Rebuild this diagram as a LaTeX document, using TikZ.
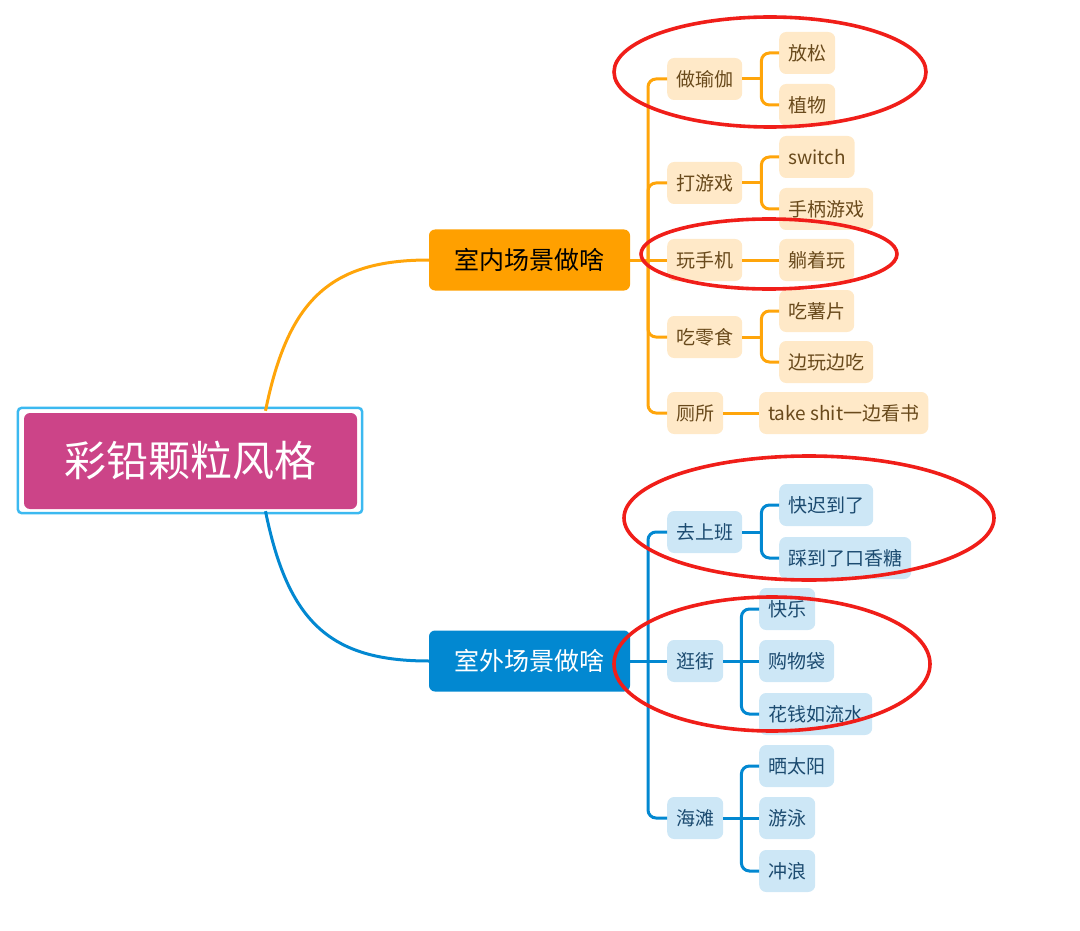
\documentclass[tikz,border=0pt]{standalone}
\usepackage{fontspec}
\setmainfont{Noto Sans CJK SC}
\usetikzlibrary{calc}
\definecolor{magroot}{RGB}{204,68,136}
\definecolor{cyanb}{RGB}{60,185,240}
\definecolor{iorange}{RGB}{255,160,0}
\definecolor{iline}{RGB}{255,165,10}
\definecolor{ifill}{RGB}{255,233,200}
\definecolor{itext}{RGB}{105,74,28}
\definecolor{oblue}{RGB}{2,136,209}
\definecolor{ofill}{RGB}{205,231,246}
\definecolor{otext}{RGB}{28,75,112}
\definecolor{redmark}{RGB}{240,30,25}
\begin{document}
\begin{tikzpicture}[x=1pt,y=-1pt,
  rootbox/.style={fill=magroot,text=white,rounded corners=6pt,minimum width=333pt,minimum height=96pt,font=\fontsize{42}{46}\selectfont},
  mainbox/.style={rounded corners=6pt,minimum width=201pt,minimum height=61pt,font=\fontsize{25}{28}\selectfont},
  ibox/.style={fill=ifill,text=itext,rounded corners=7pt,inner xsep=9pt,minimum height=42pt,anchor=west,font=\fontsize{19}{21}\selectfont},
  obox/.style={fill=ofill,text=otext,rounded corners=7pt,inner xsep=9pt,minimum height=42pt,anchor=west,font=\fontsize{19}{21}\selectfont},
  iln/.style={draw=iline,line width=3pt},
  oln/.style={draw=oblue,line width=3pt},
  ring/.style={draw=redmark,line width=3.6pt}]
\useasboundingbox (0,0) rectangle (1080,931);
% root
\node[rootbox] (root) at (190.5,461) {彩铅颗粒风格};
\draw[cyanb,line width=2.5pt,rounded corners=4pt] ($(root.north west)+(-6,-5)$) rectangle ($(root.south east)+(5,4)$);
% main nodes
\node[mainbox,fill=iorange,text=black] (in) at (529.5,260) {室内场景做啥};
\node[mainbox,fill=oblue,text=white] (out) at (529.5,661) {室外场景做啥};
\draw[iln] ($(root.north)+(75,-2)$) .. controls (288,300) and (330,260) .. (in.west);
\draw[oln] ($(root.south)+(75,2)$) .. controls (288,622) and (330,661) .. (out.west);
% indoor children
\node[ibox] (c1) at (667,79) {做瑜伽};
\node[ibox] (c2) at (667,183) {打游戏};
\node[ibox] (c3) at (667,260) {玩手机};
\node[ibox] (c4) at (667,337) {吃零食};
\node[ibox] (c5) at (667,413) {厕所};
\node[ibox] (g1) at (779,53) {放松};
\node[ibox] (g2) at (779,105) {植物};
\node[ibox] (g3) at (779,157) {switch};
\node[ibox] (g4) at (779,209) {手柄游戏};
\node[ibox] (g5) at (779,260) {躺着玩};
\node[ibox] (g6) at (779,311) {吃薯片};
\node[ibox] (g7) at (779,362) {边玩边吃};
\node[ibox] (g8) at (759,413) {take shit一边看书};
\coordinate (ti) at (648,260);
\draw[iln] (in.east) -- (ti);
\draw[iln,rounded corners=8pt] (ti) |- (c1.west);
\draw[iln,rounded corners=8pt] (ti) |- (c2.west);
\draw[iln] (ti) -- (c3.west);
\draw[iln,rounded corners=8pt] (ti) |- (c4.west);
\draw[iln,rounded corners=8pt] (ti) |- (c5.west);
\coordinate (b1) at ($(c1.east)+(19,0)$);
\coordinate (b2) at ($(c2.east)+(19,0)$);
\coordinate (b4) at ($(c4.east)+(19,0)$);
\draw[iln] (c1.east) -- (b1);
\draw[iln,rounded corners=8pt] (b1) |- (g1.west);
\draw[iln,rounded corners=8pt] (b1) |- (g2.west);
\draw[iln] (c2.east) -- (b2);
\draw[iln,rounded corners=8pt] (b2) |- (g3.west);
\draw[iln,rounded corners=8pt] (b2) |- (g4.west);
\draw[iln] (c3.east) -- (g5.west);
\draw[iln] (c4.east) -- (b4);
\draw[iln,rounded corners=8pt] (b4) |- (g6.west);
\draw[iln,rounded corners=8pt] (b4) |- (g7.west);
\draw[iln] (c5.east) -- (g8.west);
% outdoor children
\node[obox] (d1) at (667,532) {去上班};
\node[obox] (d2) at (667,661) {逛街};
\node[obox] (d3) at (667,818) {海滩};
\node[obox] (h1) at (779,505) {快迟到了};
\node[obox] (h2) at (779,558) {踩到了口香糖};
\node[obox] (h3) at (759,609) {快乐};
\node[obox] (h4) at (759,661) {购物袋};
\node[obox] (h5) at (759,714) {花钱如流水};
\node[obox] (h6) at (759,766) {晒太阳};
\node[obox] (h7) at (759,818) {游泳};
\node[obox] (h8) at (759,871) {冲浪};
\coordinate (to) at (648,661);
\draw[oln] (out.east) -- (d2.west);
\draw[oln,rounded corners=8pt] (to) |- (d1.west);
\draw[oln,rounded corners=8pt] (to) |- (d3.west);
\coordinate (e1) at ($(d1.east)+(19,0)$);
\coordinate (e2) at ($(d2.east)+(18,0)$);
\coordinate (e3) at ($(d3.east)+(18,0)$);
\draw[oln] (d1.east) -- (e1);
\draw[oln,rounded corners=8pt] (e1) |- (h1.west);
\draw[oln,rounded corners=8pt] (e1) |- (h2.west);
\draw[oln] (d2.east) -- (h4.west);
\draw[oln,rounded corners=8pt] (e2) |- (h3.west);
\draw[oln,rounded corners=8pt] (e2) |- (h5.west);
\draw[oln] (d3.east) -- (h7.west);
\draw[oln,rounded corners=8pt] (e3) |- (h6.west);
\draw[oln,rounded corners=8pt] (e3) |- (h8.west);
% red annotation rings
\draw[ring] (770,72) ellipse [x radius=156pt, y radius=55pt];
\draw[ring] (769,254) ellipse [x radius=128pt, y radius=35pt];
\draw[ring] (809,518) ellipse [x radius=185pt, y radius=62pt];
\draw[ring] (772,664) ellipse [x radius=158pt, y radius=67pt];
\end{tikzpicture}
\end{document}
